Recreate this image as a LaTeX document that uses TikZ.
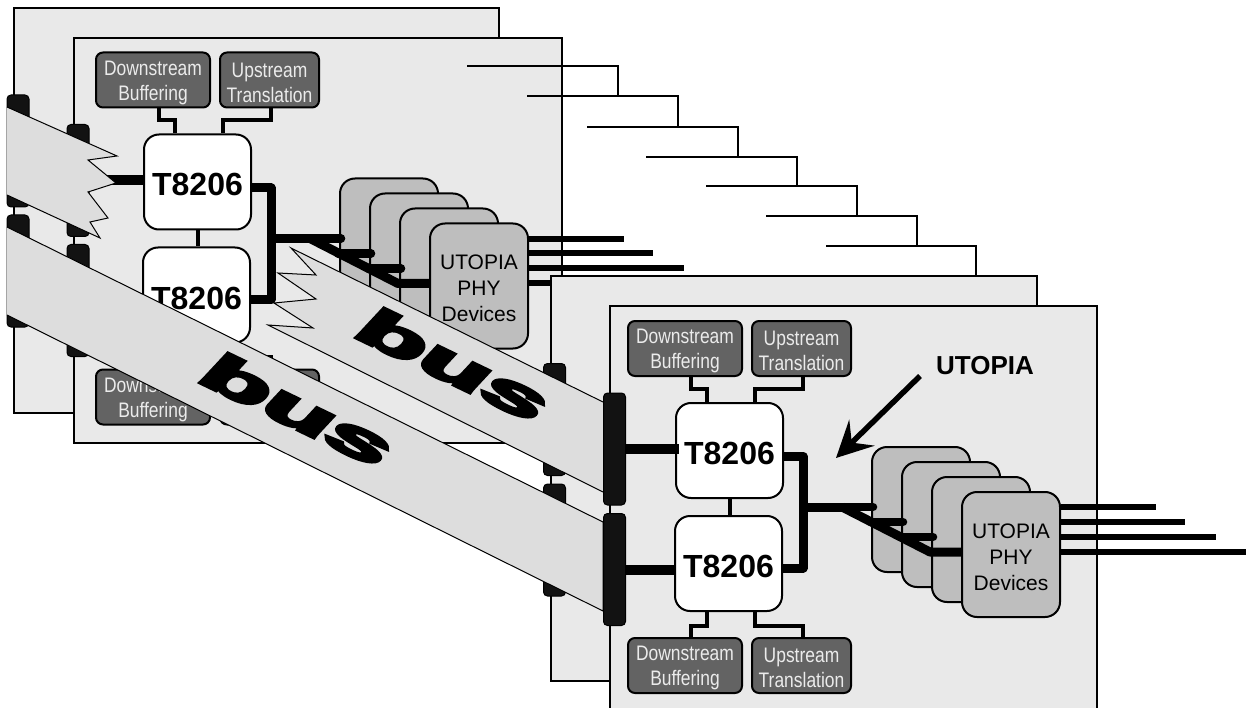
\documentclass[tikz,border=0pt]{standalone}
\usepackage{fontspec}
\setmainfont{Liberation Sans}
\newfontfamily\condf[FakeStretch=0.83]{Liberation Sans}
\newfontfamily\busf[BoldFeatures={FakeBold=6}]{Liberation Sans}
\usetikzlibrary{arrows.meta,calc}
\definecolor{boardc}{gray}{0.915}
\definecolor{ribbonc}{gray}{0.865}
\definecolor{darkbox}{gray}{0.39}
\definecolor{devc}{gray}{0.745}
\definecolor{barc}{gray}{0.07}
\newcommand{\liftb}{\rule{0pt}{20pt}}
\tikzset{
  boardbox/.style={draw=black,line width=2pt,fill=boardc,inner sep=0pt},
  busbar/.style={draw=black,fill=barc,line width=1pt,rounded corners=4pt,minimum width=22pt,minimum height=112pt,inner sep=0pt},
  chip/.style={draw=black,line width=2pt,fill=white,rounded corners=15pt,minimum width=107pt,minimum height=95pt,inner sep=0pt,text height=28pt,text depth=0pt,font=\bfseries\fontsize{32}{34}\selectfont},
  darkbuf/.style={draw=black,line width=2pt,fill=darkbox,rounded corners=7pt,minimum height=55pt,inner sep=0pt,text=white!92!black,align=center,font=\condf\fontsize{21}{25}\selectfont},
  phy/.style={draw=black,line width=2pt,fill=devc,rounded corners=15pt,minimum width=98pt,minimum height=125pt,inner sep=0pt,align=center,font=\fontsize{21}{26}\selectfont},
  link/.style={line width=4pt,draw=black,line join=miter},
  thickbus/.style={line width=9pt,draw=black,line join=round},
  feedbus/.style={line width=10pt,draw=black},
  branch/.style={line width=8.5pt,draw=black,line cap=round},
  exitline/.style={line width=6pt,draw=black},
  stair/.style={line width=1.3pt,draw=black},
  ribbon/.style={draw=black,line width=1pt,fill=ribbonc,line join=miter},
  bustxt/.style={anchor=base west,inner sep=0pt,transform shape,font=\busf\bfseries\fontsize{40}{40}\selectfont},
}
% one T8206 card contents
\newcommand{\cardgroup}[3]{%
\begin{scope}[shift={(#2,#3)}]
  \node[darkbuf,minimum width=114pt] (#1dt) at (685,348.5) {\liftb Downstream\\Buffering};
  \node[darkbuf,minimum width=99pt] (#1ut) at (801.5,348.5) {\liftb Upstream\\Translation};
  \node[darkbuf,minimum width=114pt] (#1db) at (685,665.5) {\liftb Downstream\\Buffering};
  \node[darkbuf,minimum width=99pt] (#1ub) at (801.5,665.5) {\liftb Upstream\\Translation};
  \node[chip] (#1up) at (729.5,450.5) {T8206};
  \node[chip] (#1lo) at (728.5,563.5) {T8206};
  \draw[link] (#1up.south) -- (#1up.south |- #1lo.north);
  \draw[link] ([xshift=6pt]#1dt.south) -- ++(0,11.5) -| ([xshift=-22.5pt]#1up.north);
  \draw[link] ([xshift=1.5pt]#1ut.south) -- ++(0,11.5) -| ([xshift=25.5pt]#1up.north);
  \draw[link] ([xshift=-21.5pt]#1lo.south) -- ++(0,13.5) -| ([xshift=6pt]#1db.north);
  \draw[link] ([xshift=26.5pt]#1lo.south) -- ++(0,13.5) -| ([xshift=1.5pt]#1ub.north);
  \coordinate (#1rail) at (803,507);
  \coordinate (#1fork) at (842,507);
  \coordinate (#1b1) at (873,507);
  \coordinate (#1b2) at (903,522);
  \coordinate (#1b3) at (933,537);
  \coordinate (#1b4) at (930,552);
  \coordinate (#1s2) at (870,522);
  \coordinate (#1s3) at (900,537);
  \draw[thickbus] ([yshift=-6pt]#1up.east) -| (#1rail) |- ([yshift=-4.5pt]#1lo.east);
  \node[phy] (#1p1) at (921,509.5) {};
  \node[phy] (#1p2) at (951,524.5) {};
  \node[phy] (#1p3) at (981,539.5) {};
  \draw[thickbus] (#1rail) -- (#1fork);
  \draw[branch] (#1fork) -- (#1b1);
  \draw[branch] (#1s2) -- (#1b2);
  \draw[branch] (#1s3) -- (#1b3);
  \draw[thickbus] (#1fork) -- (#1b4) -- ++(32,0);
  \node[phy] (#1p4) at (1011,554.5) {\liftb UTOPIA\\PHY\\Devices};
\end{scope}
}
\begin{document}
\begin{tikzpicture}[x=1pt,y=-1pt]
\useasboundingbox (0,0) rectangle (1246,708);
\clip (0,0) rectangle (1246,708);
% back boards
\node[boardbox,minimum width=485pt,minimum height=405pt] (A) at (256.5,210.5) {};
\node[busbar] (a1) at (18,151) {};
\node[busbar] (a2) at (18,271) {};
\node[boardbox,minimum width=488pt,minimum height=405pt] (B) at (318,240.5) {};
\node[busbar] (b1) at (78,180.5) {};
\node[busbar] (b2) at (78,300.5) {};
\cardgroup{k}{-532}{-268.5}
\draw[feedbus] (b1.east) -- (b1.east -| kup.west);
\draw[feedbus] (b2.east) -- (b2.east -| klo.west);
% back device outputs
\coordinate (ke1) at (624,239);
\coordinate (ke2) at (653,253);
\coordinate (ke3) at (684,268);
\coordinate (ke4) at (560,283);
\draw[exitline] (kp4.east |- ke1) -- (ke1);
\draw[exitline] (kp4.east |- ke2) -- (ke2);
\draw[exitline] (kp4.east |- ke3) -- (ke3);
\draw[exitline] (kp4.east |- ke4) -- (ke4);
% stair lines
\coordinate (s1) at (467,66);
\coordinate (s2) at (527,96);
\coordinate (s3) at (587,127);
\coordinate (s4) at (646,157);
\coordinate (s5) at (706,186);
\coordinate (s6) at (766,216);
\coordinate (s7) at (826,246);
\coordinate (t1) at (618,96);
\coordinate (t2) at (678,127);
\coordinate (t3) at (738,157);
\coordinate (t4) at (797,186);
\coordinate (t5) at (857,216);
\coordinate (t6) at (917,246);
\coordinate (t7) at (976,276);
\draw[stair] (s1) -| (t1);
\draw[stair] (s2) -| (t2);
\draw[stair] (s3) -| (t3);
\draw[stair] (s4) -| (t4);
\draw[stair] (s5) -| (t5);
\draw[stair] (s6) -| (t6);
\draw[stair] (s7) -| (t7);
% front boards
\node[boardbox,minimum width=486pt,minimum height=405pt] (C) at (794,478.5) {};
\node[busbar] (c1) at (554.5,419.5) {};
\node[busbar] (c2) at (554.5,540) {};
\node[boardbox,minimum width=487pt,minimum height=405pt] (D) at (853.5,508.5) {};
% ribbons
\draw[ribbon] (7,107) -- (117,156) -- (88,160) -- (116,183) -- (88,192) -- (108,218) -- (90,222) -- (100,238) -- (7,195);
\draw[ribbon] (603,402) -- (291,248) -- (316,275) -- (278,273) -- (316,299) -- (274,303) -- (313,328) -- (268,325) -- (603,492);
\draw[ribbon] (7,227) -- (603,522) -- (603,611) -- (7,315);
\begin{scope}[shift={(194,380)},cm={2.55,-1.23,0.96,1.03,(0,0)}]
  \node[bustxt] (bus1) at (0,0) {bus};
\end{scope}
\begin{scope}[shift={(350,335)},cm={2.55,-1.23,0.96,1.03,(0,0)}]
  \node[bustxt] (bus2) at (0,0) {bus};
\end{scope}
% front bus bars
\node[busbar] (d1) at (614.5,449) {};
\node[busbar] (d2) at (614.5,569.5) {};
\cardgroup{m}{0}{0}
\draw[feedbus] (d1.east) -- ([xshift=4pt]d1.east -| mup.west);
\draw[feedbus] (d2.east) -- (d2.east -| mlo.west);
\coordinate (me1) at (1156,507);
\coordinate (me2) at (1185,522);
\coordinate (me3) at (1216,537);
\coordinate (me4) at (1246,552);
\draw[exitline] (mp4.east |- me1) -- (me1);
\draw[exitline] (mp4.east |- me2) -- (me2);
\draw[exitline] (mp4.east |- me3) -- (me3);
\draw[exitline] (mp4.east |- me4) -- (me4);
% label and arrow
\node[font=\bfseries\fontsize{26}{28}\selectfont,inner sep=0pt] (ulabel) at (985,366) {UTOPIA};
\coordinate (utip) at (836,458);
\coordinate (ustart) at (920,376);
\draw[line width=5.5pt,-{Stealth[length=36pt,width=36pt,inset=14pt]}] (ustart) -- (utip);
\end{tikzpicture}
\end{document}
